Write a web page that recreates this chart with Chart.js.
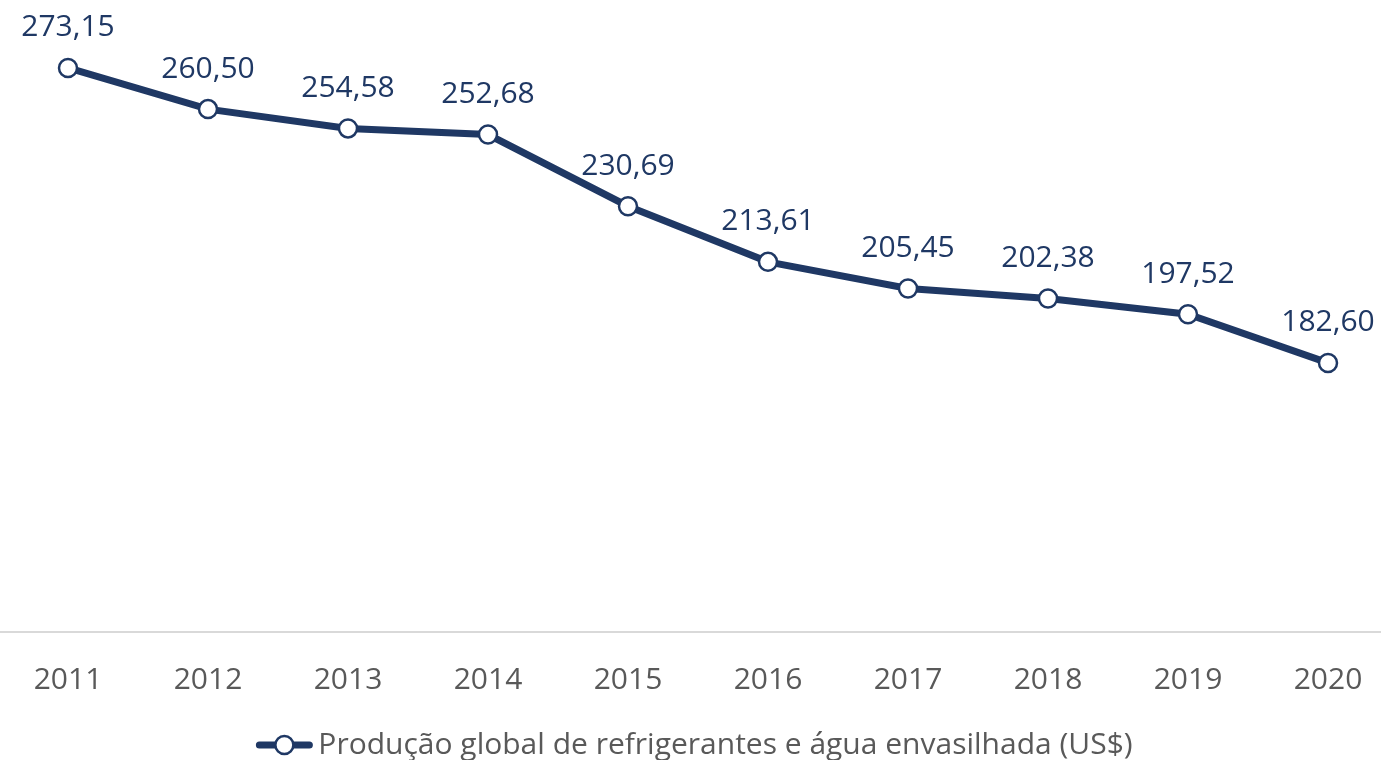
<!DOCTYPE html>
<html>
<head>
<meta charset="utf-8">
<script src="https://cdn.jsdelivr.net/npm/chart.js@4"></script>
<style>
  html, body { margin: 0; padding: 0; background: #fff; overflow: hidden; }
  #wrap { width: 1381px; height: 770px; }
</style>
</head>
<body>
<div id="wrap"><canvas id="lineChart"></canvas></div>
<script>
// Data
const years = ['2011', '2012', '2013', '2014', '2015', '2016', '2017', '2018', '2019', '2020'];
const production = [273.15, 260.50, 254.58, 252.68, 230.69, 213.61, 205.45, 202.38, 197.52, 182.60];
const seriesLabel = 'Produção global de refrigerantes e água envasilhada (US$)';

const navy = '#1f3864';
const grey = '#595959';
const fontFamily = "'Open Sans', 'Noto Sans', sans-serif";

const valueLabels = {
  id: 'valueLabels',
  beforeDatasetsDraw(chart) {
    // light baseline running across the whole width
    const ctx = chart.ctx;
    const y = chart.chartArea.bottom;
    ctx.save();
    ctx.strokeStyle = '#d9d9d9';
    ctx.lineWidth = 2;
    ctx.beginPath();
    ctx.moveTo(0, y);
    ctx.lineTo(chart.width, y);
    ctx.stroke();
    ctx.restore();
  },
  afterDatasetsDraw(chart) {
    // value labels above each point, decimal comma
    const ctx = chart.ctx;
    const meta = chart.getDatasetMeta(0);
    ctx.save();
    ctx.font = '30px ' + fontFamily;
    ctx.fillStyle = navy;
    ctx.textAlign = 'center';
    ctx.textBaseline = 'middle';
    meta.data.forEach(function (pt, i) {
      const txt = production[i].toFixed(2).replace('.', ',');
      ctx.fillText(txt, pt.x, pt.y - 40);
    });
    ctx.restore();
  },
  afterDraw(chart) {
    // legend marker: thick rounded line with a hollow circle
    const boxes = chart.legend.legendHitBoxes;
    if (!boxes || !boxes.length) return;
    const b = boxes[0];
    const ctx = chart.ctx;
    const cy = b.top + b.height / 2;
    ctx.save();
    ctx.strokeStyle = navy;
    ctx.lineCap = 'round';
    ctx.lineWidth = 7;
    ctx.beginPath();
    ctx.moveTo(b.left - 4, cy);
    ctx.lineTo(b.left + 46, cy);
    ctx.stroke();
    ctx.beginPath();
    ctx.arc(b.left + 21, cy, 9, 0, Math.PI * 2);
    ctx.fillStyle = '#fff';
    ctx.fill();
    ctx.lineWidth = 2.5;
    ctx.stroke();
    ctx.restore();
  },
};

const ctx = document.getElementById('lineChart').getContext('2d');
new Chart(ctx, {
  type: 'line',
  data: {
    labels: years,
    datasets: [
      {
        label: seriesLabel,
        data: production,
        borderColor: navy,
        backgroundColor: navy,
        borderWidth: 7,
        pointRadius: 9,
        pointBorderWidth: 2.5,
        pointBackgroundColor: '#fff',
        pointBorderColor: navy,
        tension: 0,
      },
    ],
  },
  options: {
    responsive: true,
    maintainAspectRatio: false,
    animation: false,
    layout: {
      padding: { left: 68, right: 53, top: 13, bottom: 0 },
    },
    plugins: {
      tooltip: { enabled: false },
      legend: {
        position: 'bottom',
        labels: {
          boxWidth: 40,
          boxHeight: 7,
          color: grey,
          padding: 2,
          font: { family: fontFamily, size: 30 },
          generateLabels(chart) {
            // keep the library's box invisible; the marker is drawn in afterDraw
            const items = Chart.defaults.plugins.legend.labels.generateLabels(chart);
            items.forEach(function (it) {
              it.fillStyle = 'rgba(0,0,0,0)';
              it.strokeStyle = 'rgba(0,0,0,0)';
              it.lineWidth = 0;
            });
            return items;
          },
        },
      },
    },
    scales: {
      x: {
        offset: false,
        grid: { display: false, drawTicks: false },
        border: { display: false },
        ticks: {
          color: grey,
          padding: 30,
          maxRotation: 0,
          font: { family: fontFamily, size: 30 },
        },
        afterFit(axis) {
          // let the layout padding alone decide the side margins
          axis.paddingLeft = 0;
          axis.paddingRight = 0;
        },
      },
      y: {
        display: false,
        min: 100,
        max: 290,
      },
    },
  },
  plugins: [valueLabels],
});
</script>
</body>
</html>
